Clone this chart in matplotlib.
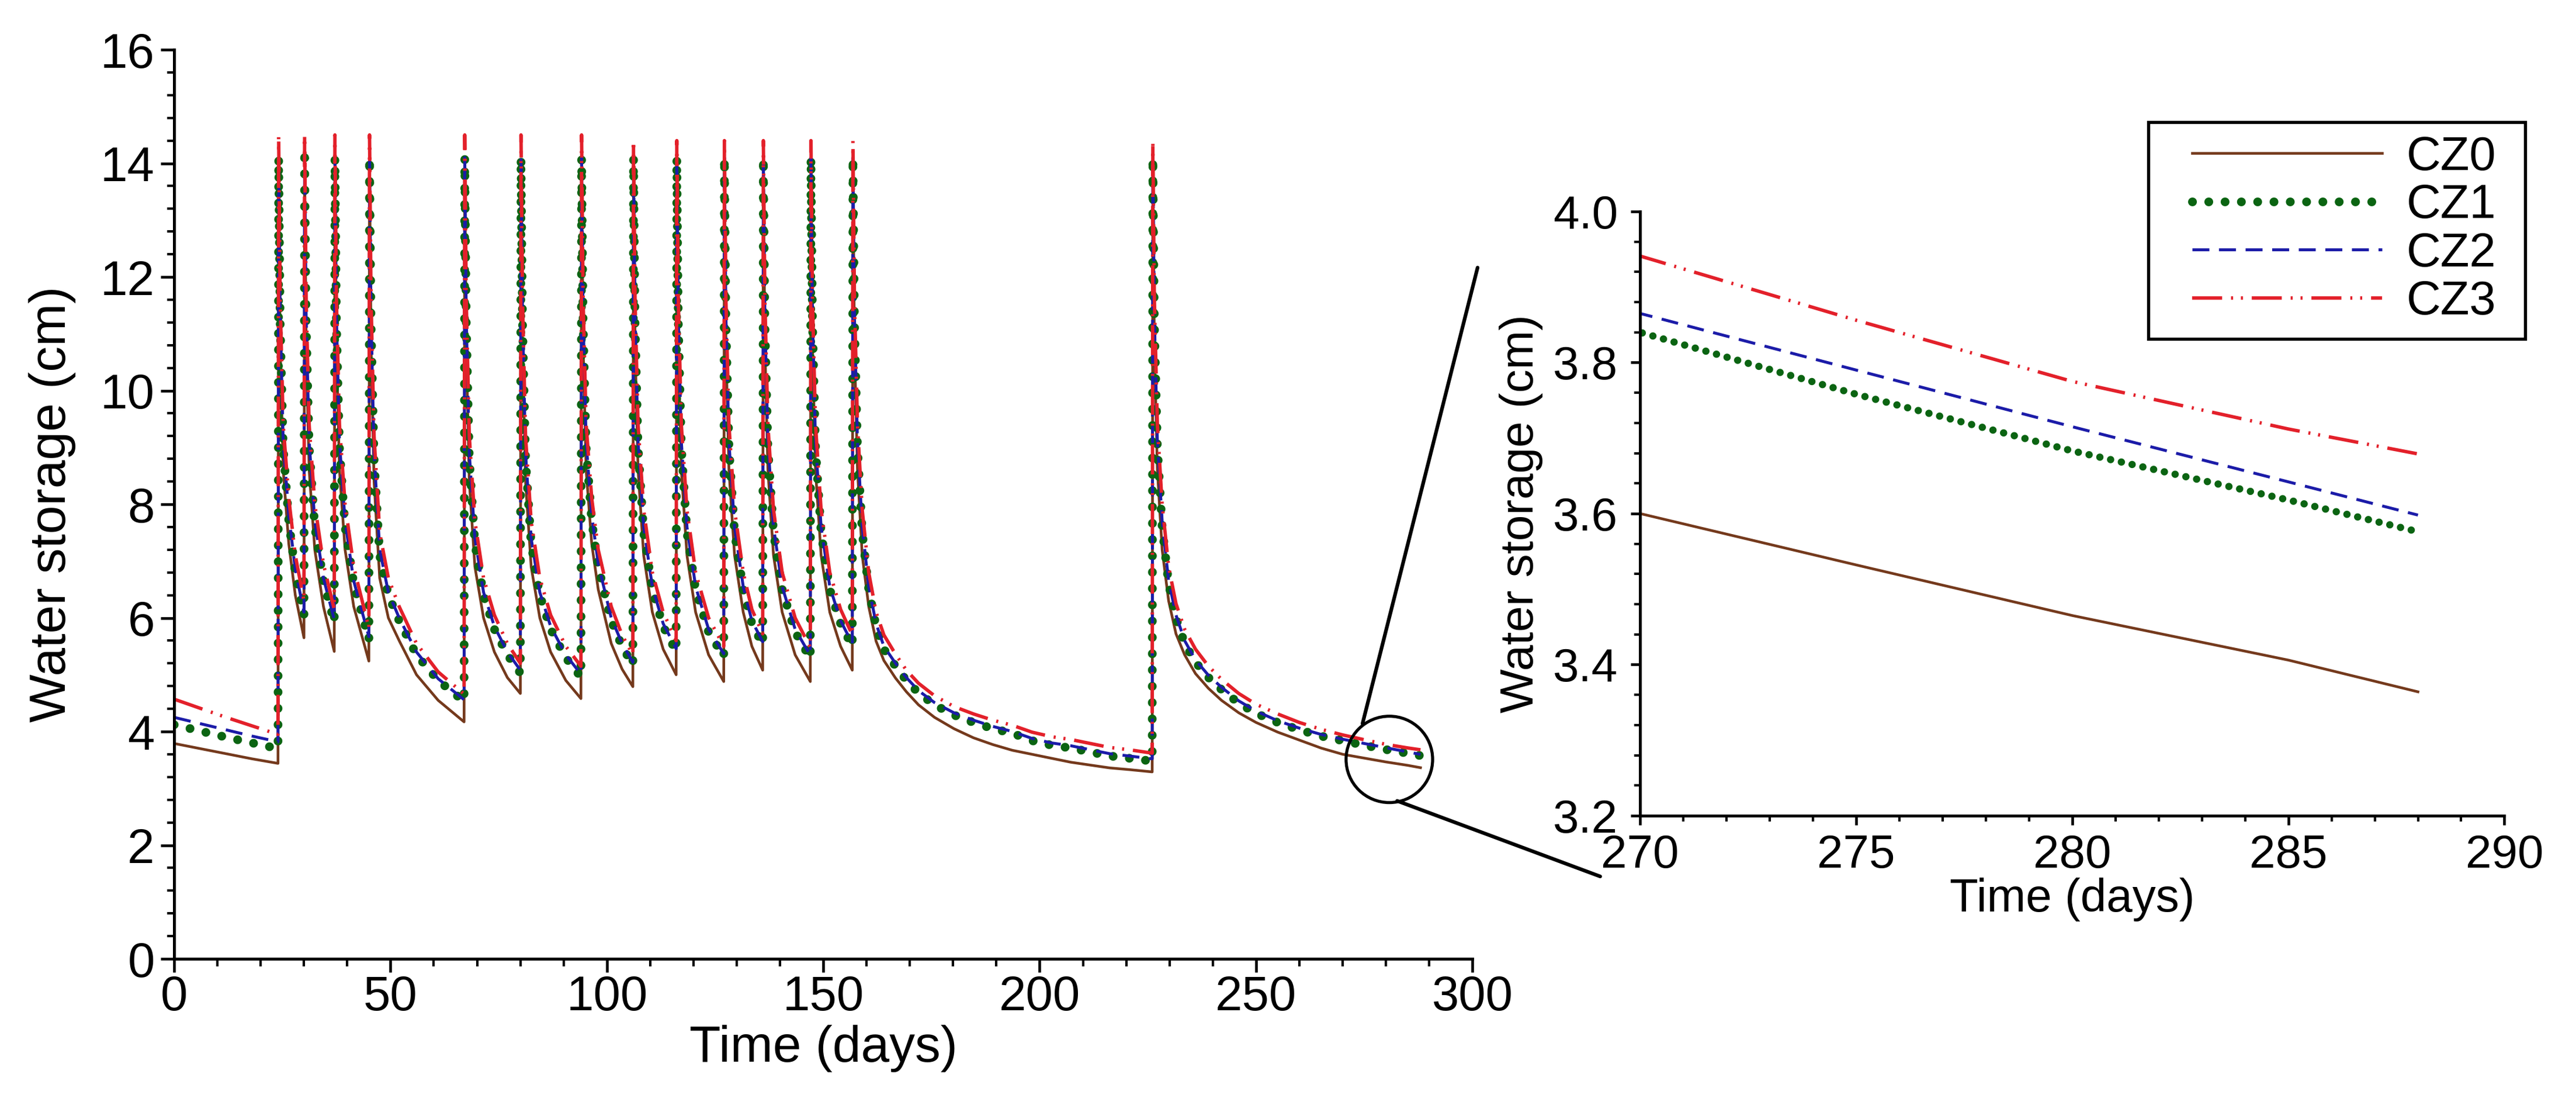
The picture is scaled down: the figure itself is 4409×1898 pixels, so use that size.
import matplotlib
matplotlib.use('Agg')
import matplotlib.pyplot as plt
from matplotlib.patches import Ellipse, ConnectionPatch, Rectangle
from matplotlib.ticker import MultipleLocator

plt.rcParams['font.family'] = ['Liberation Sans', 'DejaVu Sans']

# Datos (dia, almacenamiento en cm)
days = [0, 6, 12, 18, 24,
        24.15, 24.5, 25.2, 26.5, 28, 30,
        30.15, 30.5, 31.2, 32.5, 34.5, 37,
        37.15, 37.5, 38.2, 39.5, 41.5, 45,
        45.15, 45.5, 46.2, 47.5, 49.5, 52, 56, 61, 67,
        67.15, 67.5, 68.2, 69.5, 71.5, 74, 77, 80,
        80.15, 80.5, 81.2, 82.5, 84.5, 87, 90.5, 94,
        94.15, 94.5, 95.2, 96.5, 98, 101, 103.5, 106,
        106.15, 106.5, 107.2, 108.5, 110.5, 113, 116,
        116.15, 116.5, 117.2, 118.5, 120.5, 123.5, 127,
        127.15, 127.5, 128.2, 129.5, 131.5, 133.5, 136,
        136.15, 136.5, 137.2, 138.5, 140.5, 143.5, 147,
        147.15, 147.5, 148.2, 149.5, 151.5, 154, 156.7,
        156.85, 157.2, 157.9, 159.0, 160.5, 162.2, 164, 166.7, 169.2, 172,
        175.7, 180.2, 184.7, 189.2, 193.7, 198.2, 202.7, 207.2, 211.7,
        216.2, 220.7, 226,
        226.15, 226.5, 227.2, 228.3, 229.8, 231.5, 233.5, 236, 239, 242,
        246, 250, 255, 260, 265, 270, 275, 280, 285, 288]

cz0 = [3.79, 3.70, 3.61, 3.52, 3.44,
       14.0, 10.8, 8.6, 7.3, 6.4, 5.65,
       14.0, 10.8, 8.6, 7.2, 6.2, 5.41,
       14.0, 10.8, 8.6, 7.2, 6.2, 5.24,
       14.0, 10.8, 8.4, 6.7, 6.0, 5.6, 5.0, 4.55, 4.17,
       14.0, 10.8, 8.4, 6.9, 6.0, 5.4, 4.95, 4.67,
       14.0, 10.8, 8.4, 6.9, 6.0, 5.4, 4.9, 4.58,
       14.0, 10.8, 8.6, 7.3, 6.5, 5.55, 5.1, 4.79,
       14.0, 10.8, 8.6, 7.1, 6.1, 5.45, 5.00,
       14.0, 10.8, 8.6, 7.1, 6.1, 5.35, 4.88,
       14.0, 10.8, 8.6, 7.1, 6.1, 5.5, 5.08,
       14.0, 10.8, 8.6, 7.1, 6.1, 5.35, 4.88,
       14.0, 10.8, 8.6, 7.1, 6.1, 5.5, 5.08,
       14.0, 10.8, 8.6, 7.1, 6.2, 5.59, 5.25, 4.94, 4.70, 4.47,
       4.25, 4.05, 3.89, 3.77, 3.67, 3.60, 3.53, 3.46, 3.41,
       3.36, 3.33, 3.29,
       14.0, 10.8, 8.6, 7.2, 6.3, 5.72, 5.35, 5.02, 4.76, 4.55,
       4.33, 4.16, 3.99, 3.85, 3.71, 3.60, 3.532, 3.465, 3.406, 3.364]

cz1 = [4.12, 4.01, 3.90, 3.80, 3.70,
       14.1, 11.2, 9.0, 7.7, 6.8, 6.05,
       14.1, 11.2, 9.0, 7.6, 6.65, 5.92,
       14.1, 11.2, 9.0, 7.6, 6.6, 5.62,
       14.1, 11.2, 8.8, 7.1, 6.4, 5.95, 5.35, 4.90, 4.53,
       14.1, 11.2, 8.8, 7.3, 6.4, 5.8, 5.35, 5.03,
       14.1, 11.2, 8.8, 7.3, 6.4, 5.8, 5.3, 4.96,
       14.1, 11.2, 9.0, 7.7, 6.9, 5.95, 5.5, 5.17,
       14.1, 11.2, 9.0, 7.5, 6.5, 5.85, 5.41,
       14.1, 11.2, 9.0, 7.5, 6.5, 5.75, 5.32,
       14.1, 11.2, 9.0, 7.5, 6.5, 5.9, 5.53,
       14.1, 11.2, 9.0, 7.5, 6.5, 5.75, 5.29,
       14.1, 11.2, 9.0, 7.5, 6.5, 5.9, 5.50,
       14.1, 11.2, 9.0, 7.5, 6.5, 5.85, 5.45, 5.15, 4.90, 4.68,
       4.47, 4.29, 4.16, 4.05, 3.97, 3.84, 3.76, 3.71, 3.64,
       3.57, 3.53, 3.48,
       14.1, 11.2, 9.0, 7.6, 6.6, 6.0, 5.55, 5.22, 4.95, 4.74,
       4.50, 4.32, 4.16, 4.03, 3.92, 3.84, 3.758, 3.683, 3.618, 3.576]

cz2 = [4.25, 4.14, 4.03, 3.92, 3.82,
       14.1, 11.3, 9.1, 7.8, 6.85, 6.10,
       14.1, 11.3, 9.1, 7.7, 6.7, 5.97,
       14.1, 11.3, 9.1, 7.7, 6.65, 5.67,
       14.1, 11.3, 8.9, 7.2, 6.45, 6.0, 5.4, 4.93, 4.56,
       14.1, 11.3, 8.9, 7.4, 6.45, 5.85, 5.4, 5.08,
       14.1, 11.3, 8.9, 7.4, 6.45, 5.85, 5.35, 5.01,
       14.1, 11.3, 9.1, 7.8, 6.95, 6.0, 5.55, 5.22,
       14.1, 11.3, 9.1, 7.6, 6.55, 5.9, 5.46,
       14.1, 11.3, 9.1, 7.6, 6.55, 5.8, 5.37,
       14.1, 11.3, 9.1, 7.6, 6.55, 5.95, 5.58,
       14.1, 11.3, 9.1, 7.6, 6.55, 5.8, 5.34,
       14.1, 11.3, 9.1, 7.6, 6.55, 5.95, 5.55,
       14.1, 11.3, 9.1, 7.6, 6.55, 5.9, 5.5, 5.2, 4.95, 4.72,
       4.51, 4.33, 4.20, 4.09, 4.00, 3.88, 3.80, 3.75, 3.68,
       3.61, 3.57, 3.52,
       14.1, 11.3, 9.1, 7.7, 6.65, 6.05, 5.6, 5.26, 4.99, 4.78,
       4.54, 4.36, 4.19, 4.06, 3.95, 3.865, 3.79, 3.715, 3.642, 3.598]

cz3 = [4.57, 4.41, 4.25, 4.10, 3.95,
       14.5, 11.6, 9.4, 8.1, 7.1, 6.30,
       14.5, 11.6, 9.4, 8.0, 6.95, 6.15,
       14.5, 11.6, 9.4, 8.0, 6.9, 5.82,
       14.5, 11.6, 9.2, 7.5, 6.7, 6.2, 5.55, 5.05, 4.66,
       14.5, 11.6, 9.2, 7.7, 6.7, 6.05, 5.55, 5.20,
       14.5, 11.6, 9.2, 7.7, 6.7, 6.05, 5.5, 5.15,
       14.5, 11.6, 9.4, 8.1, 7.2, 6.2, 5.7, 5.35,
       14.4, 11.6, 9.4, 7.9, 6.8, 6.1, 5.6,
       14.4, 11.6, 9.4, 7.9, 6.8, 6.0, 5.5,
       14.4, 11.6, 9.4, 7.9, 6.8, 6.15, 5.72,
       14.4, 11.6, 9.4, 7.9, 6.8, 6.0, 5.48,
       14.4, 11.6, 9.4, 7.9, 6.8, 6.15, 5.70,
       14.4, 11.6, 9.4, 7.9, 6.8, 6.1, 5.7, 5.36, 5.08, 4.85,
       4.63, 4.44, 4.31, 4.20, 4.11, 3.99, 3.91, 3.86, 3.79,
       3.72, 3.68, 3.62,
       14.4, 11.6, 9.4, 8.0, 6.9, 6.25, 5.8, 5.45, 5.15, 4.92,
       4.67, 4.48, 4.31, 4.16, 4.04, 3.941, 3.856, 3.775, 3.712, 3.679]

nombres = ['CZ0', 'CZ1', 'CZ2', 'CZ3']
colores = ['#74391c', '#0b6412', '#1b1ba8', '#e3202a']


def dibujar(ax, dot_lw, dot_gap):
    lineas = []
    lineas += ax.plot(days, cz0, color=colores[0], lw=1.1, ls='-')
    lineas += ax.plot(days, cz1, color=colores[1], lw=dot_lw,
                      ls=(0, (0.01, dot_gap)), dash_capstyle='round')
    lineas += ax.plot(days, cz2, color=colores[2], lw=1.2,
                      ls=(0, (5.8, 3.3)))
    lineas += ax.plot(days, cz3, color=colores[3], lw=1.4,
                      ls=(0, (8.8, 2.6, 0.6, 2.3, 0.6, 2.6)))
    return lineas


def estilo_ejes(ax, size, major_len, minor_len, xpad, ypad):
    for lado in ['top', 'right']:
        ax.spines[lado].set_visible(False)
    for lado in ['left', 'bottom']:
        ax.spines[lado].set_linewidth(1.2)
    ax.tick_params(which='major', direction='out', length=major_len,
                   width=1.1, labelsize=size)
    ax.tick_params(which='minor', direction='out', length=minor_len,
                   width=1.0)
    ax.tick_params(axis='x', which='major', pad=xpad)
    ax.tick_params(axis='y', which='major', pad=ypad)


fig = plt.figure(figsize=(4409 / 300, 1898 / 300), dpi=300)

# Grafico principal
ax = fig.add_axes([0.0676, 0.1354, 0.504, 0.8198])
lineas = dibujar(ax, 3.6, 1.85)
ax.set_xlim(0, 300)
ax.set_ylim(0, 16)
ax.xaxis.set_major_locator(MultipleLocator(50))
ax.xaxis.set_minor_locator(MultipleLocator(10))
ax.yaxis.set_major_locator(MultipleLocator(2))
ax.yaxis.set_minor_locator(MultipleLocator(0.4))
estilo_ejes(ax, 20, 5.5, 3, 1, 2.5)
ax.set_xlabel('Time (days)', fontsize=21, labelpad=2)
ax.set_ylabel('Water storage (cm)', fontsize=21, labelpad=10)

# Zoom
ax_in = fig.add_axes([0.6367, 0.2645, 0.3355, 0.5448])
dibujar(ax_in, 3.0, 1.5)
ax_in.set_xlim(270, 290)
ax_in.set_ylim(3.2, 4.0)
ax_in.xaxis.set_major_locator(MultipleLocator(5))
ax_in.xaxis.set_minor_locator(MultipleLocator(1))
ax_in.yaxis.set_major_locator(MultipleLocator(0.2))
ax_in.yaxis.set_minor_locator(MultipleLocator(0.04))
estilo_ejes(ax_in, 19.2, 3.8, 2.5, 3.6, 5.3)
ax_in.set_xlabel('Time (days)', fontsize=19.2, labelpad=0)
ax_in.set_ylabel('Water storage (cm)', fontsize=19.2, labelpad=4)

# Circulo y lineas de conexion
circulo = Ellipse((280.8, 3.51), width=20, height=1.52, fill=False,
                  edgecolor='black', lw=1.25, clip_on=False, zorder=5)
ax.add_patch(circulo)
for xy_a, xy_b in [((274.6, 4.14), (0.5736, 0.7587)),
                   ((282.6, 2.78), (0.6212, 0.2097))]:
    con = ConnectionPatch(xyA=xy_a, coordsA=ax.transData,
                          xyB=xy_b, coordsB=fig.transFigure,
                          color='black', lw=1.5)
    fig.add_artist(con)

# Leyenda con marco propio
leg = fig.legend(lineas, nombres, loc='upper left',
                 bbox_to_anchor=(0.8510, 0.8778),
                 bbox_transform=fig.transFigure, fontsize=19.5,
                 frameon=False, borderpad=0, handlelength=4.0,
                 handletextpad=0.52, labelspacing=0.08, borderaxespad=0)
marco = Rectangle((0.8340, 0.6944), 0.1463, 0.1955, transform=fig.transFigure,
                  fill=False, edgecolor='black', lw=1.3)
fig.add_artist(marco)

fig.savefig('out.png', dpi=300)
